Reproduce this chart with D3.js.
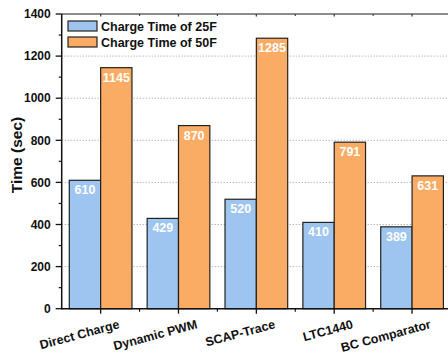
<!DOCTYPE html>
<html><head><meta charset="utf-8">
<script src="https://cdn.jsdelivr.net/npm/d3@7"></script>
<style>body{margin:0;background:#fff}svg{display:block}text{font-family:"Liberation Sans",Arial,sans-serif;font-weight:bold}</style>
</head><body>
<script>
const categories = ["Direct Charge","Dynamic PWM","SCAP-Trace","LTC1440","BC Comparator"];
const seriesNames = ["Charge Time of 25F","Charge Time of 50F"];
const time25F = [610, 429, 520, 410, 389];
const time50F = [1145, 870, 1285, 791, 631];
const yTicks = [0,200,400,600,800,1000,1200,1400];
const colors = ["#9EC5F0","#FAAB64"];

const W=448,H=354, L=61.7, R=451, T=14, B=308.7;
const svg=d3.select("body").append("svg").attr("width",W).attr("height",H);
const x=d3.scaleBand().domain(categories).range([L,R]).padding(0);
const bw=x.bandwidth();
const xs=d3.scaleBand().domain(seriesNames).range([bw*0.0975,bw*0.9025]).padding(0);
const y=d3.scaleLinear().domain([0,1400]).range([B,T]);

// grid
svg.append("g").selectAll("line").data(yTicks.filter(v=>v>0&&v<1400)).join("line")
 .attr("x1",L).attr("x2",R).attr("y1",d=>y(d)).attr("y2",d=>y(d))
 .attr("stroke","#9a9a9a").attr("stroke-width",1).attr("stroke-dasharray","1,2");

const data = categories.map((c,i)=>({c, vals:[time25F[i],time50F[i]]}));
const g=svg.append("g").selectAll("g").data(data).join("g").attr("transform",d=>`translate(${x(d.c)},0)`);
g.selectAll("rect").data(d=>d.vals.map((v,j)=>({v,s:seriesNames[j],j}))).join("rect")
 .attr("x",d=>xs(d.s)).attr("width",xs.bandwidth())
 .attr("y",d=>y(d.v)).attr("height",d=>B-y(d.v))
 .attr("fill",d=>colors[d.j]).attr("stroke","#222").attr("stroke-width",1.2);
g.selectAll("text").data(d=>d.vals.map((v,j)=>({v,s:seriesNames[j],j}))).join("text")
 .attr("x",d=>xs(d.s)+xs.bandwidth()/2).attr("y",d=>y(d.v)+14)
 .attr("text-anchor","middle").attr("fill","#fff").attr("font-size",12.5).text(d=>d.v);

// axes lines
svg.append("line").attr("x1",L).attr("x2",R).attr("y1",T).attr("y2",T).attr("stroke","#666").attr("stroke-width",1.5);
svg.append("line").attr("x1",L).attr("x2",R).attr("y1",B).attr("y2",B).attr("stroke","#111").attr("stroke-width",1.5);
svg.append("line").attr("x1",L).attr("x2",L).attr("y1",T).attr("y2",B+0.7).attr("stroke","#111").attr("stroke-width",1.5);

// y ticks
const ya=svg.append("g");
yTicks.forEach(v=>{
  ya.append("line").attr("x1",L-6).attr("x2",L).attr("y1",y(v)).attr("y2",y(v)).attr("stroke","#111").attr("stroke-width",1.3);
  ya.append("text").attr("x",L-11).attr("y",y(v)+4.2).attr("text-anchor","end").attr("font-size",12).attr("fill","#111").text(v);
});
d3.range(100,1400,200).forEach(v=>{
  ya.append("line").attr("x1",L-3).attr("x2",L).attr("y1",y(v)).attr("y2",y(v)).attr("stroke","#111").attr("stroke-width",1.2);
});
// x ticks
categories.forEach((c,i)=>{
  const cx=x(c)+bw/2;
  svg.append("line").attr("x1",cx).attr("x2",cx).attr("y1",B).attr("y2",B+5).attr("stroke","#111").attr("stroke-width",1.3);
  svg.append("line").attr("x1",cx).attr("x2",cx).attr("y1",T).attr("y2",T+2.5).attr("stroke","#444").attr("stroke-width",1.3);
  const mx=x(c)+bw;
  svg.append("line").attr("x1",mx).attr("x2",mx).attr("y1",B).attr("y2",B+3).attr("stroke","#111").attr("stroke-width",1.2);
  svg.append("line").attr("x1",mx).attr("x2",mx).attr("y1",T).attr("y2",T+2).attr("stroke","#444").attr("stroke-width",1.2);
  svg.append("text").attr("transform",`translate(${cx+19.5},328) rotate(-15)`).attr("text-anchor","end")
   .attr("font-size",12.5).attr("fill","#111").text(c);
});
// y label
svg.append("text").attr("transform",`translate(22,155) rotate(-90)`).attr("text-anchor","middle")
 .attr("font-size",15.5).attr("fill","#111").text("Time (sec)");

// legend
seriesNames.forEach((s,i)=>{
  const ly=21+i*16;
  svg.append("rect").attr("x",68).attr("y",ly).attr("width",29).attr("height",10).attr("fill",colors[i]).attr("stroke","#222").attr("stroke-width",1.2);
  svg.append("text").attr("x",101).attr("y",ly+9.5).attr("font-size",12.5).attr("fill","#111").text(s);
});
</script>
</body></html>
